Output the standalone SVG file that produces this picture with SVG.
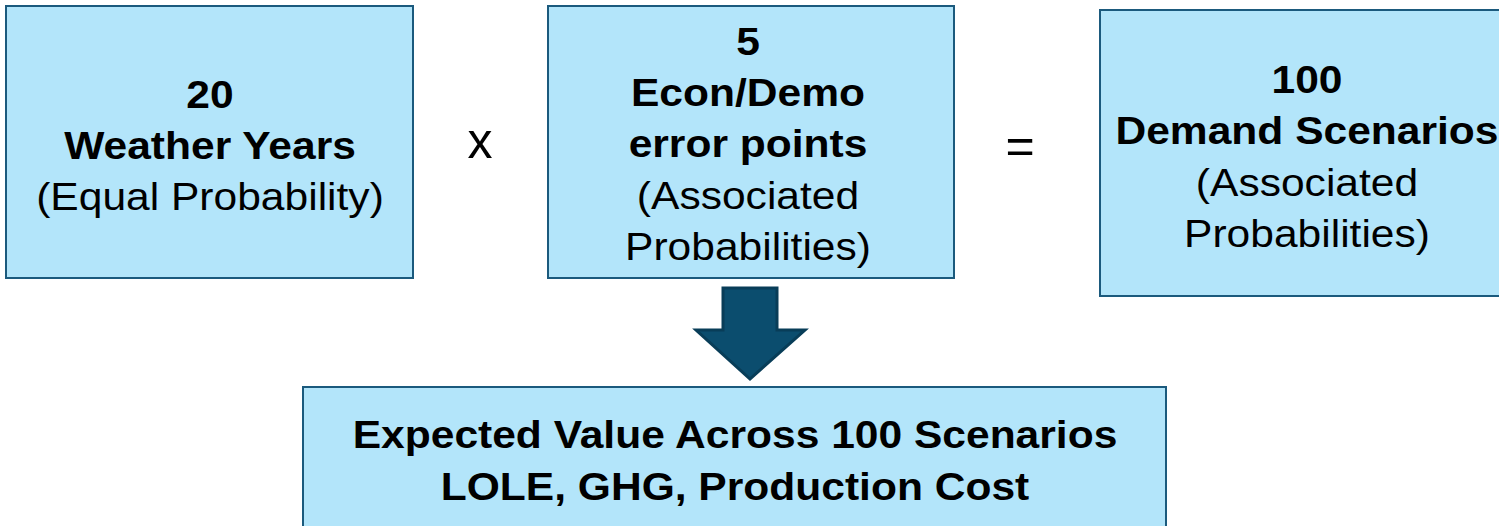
<svg xmlns="http://www.w3.org/2000/svg" width="1499" height="526" viewBox="0 0 1499 526">
  <style>
    .box { fill: #b3e5fa; stroke: #1b5a7d; stroke-width: 2; }
    .t { font-family: "Liberation Sans", Arial, sans-serif; font-size: 38px; fill: #000; text-anchor: middle; }
    .b { font-weight: bold; }
    .op { font-family: "Liberation Sans", Arial, sans-serif; font-size: 50px; fill: #000; text-anchor: middle; }
    .arrow { fill: #0b4d6e; stroke: #083d58; stroke-width: 3; stroke-linejoin: miter; }
  </style>

  <rect width="1499" height="526" fill="#ffffff"/>

  <!-- weather years -->
  <g id="weather">
    <rect class="box" x="6" y="6" width="407" height="272"/>
    <g transform="translate(210 0) scale(1.12 1)">
      <text class="t b" x="0" y="108">20</text>
      <text class="t b" x="0" y="159">Weather Years</text>
      <text class="t" x="0" y="210">(Equal Probability)</text>
    </g>
  </g>

  <!-- multiplication sign -->
  <g id="times">
    <text class="op" x="480" y="158">x</text>
  </g>

  <!-- economic / demographic error points -->
  <g id="econ">
    <rect class="box" x="548" y="6" width="406" height="272"/>
    <g transform="translate(748 0) scale(1.12 1)">
      <text class="t b" x="0" y="55">5</text>
      <text class="t b" x="0" y="106">Econ/Demo</text>
      <text class="t b" x="0" y="157">error points</text>
      <text class="t" x="0" y="209">(Associated</text>
      <text class="t" x="0" y="260">Probabilities)</text>
    </g>
  </g>

  <!-- equals sign -->
  <g id="equals">
    <text class="op" x="1020" y="163">=</text>
  </g>

  <!-- demand scenarios -->
  <g id="scenarios">
    <rect class="box" x="1100" y="10" width="420" height="286"/>
    <g transform="translate(1307 0) scale(1.12 1)">
      <text class="t b" x="0" y="93">100</text>
      <text class="t b" x="0" y="144">Demand Scenarios</text>
      <text class="t" x="0" y="196">(Associated</text>
      <text class="t" x="0" y="247">Probabilities)</text>
    </g>
  </g>

  <!-- block arrow -->
  <g id="connectors">
    <path class="arrow" d="M723,288 L777,288 L777,330 L805,330 L750,379 L696,330 L723,330 Z"/>
  </g>

  <!-- result -->
  <g id="result">
    <rect class="box" x="303" y="387" width="863" height="160"/>
    <g transform="translate(735 0) scale(1.12 1)">
      <text class="t b" x="0" y="448">Expected Value Across 100 Scenarios</text>
      <text class="t b" x="0" y="500">LOLE, GHG, Production Cost</text>
    </g>
  </g>
</svg>
